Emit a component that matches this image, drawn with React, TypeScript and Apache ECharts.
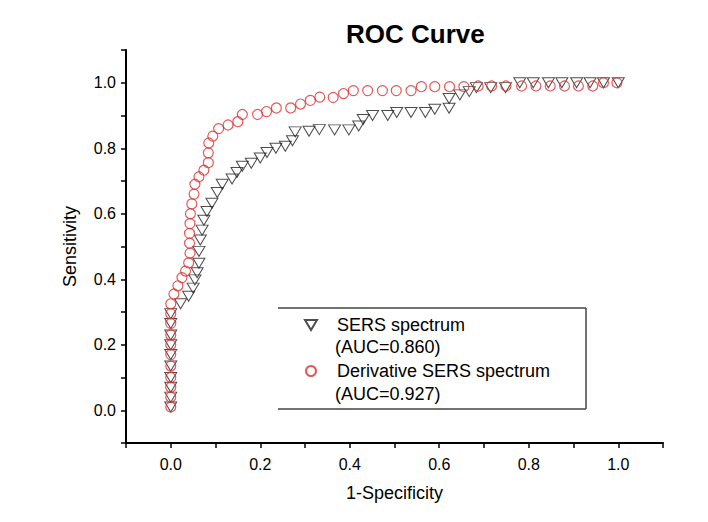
import React, { useEffect, useRef } from 'react';
import * as echarts from 'echarts';

const seriesNames = ['SERS spectrum', 'Derivative SERS spectrum'];
const aucLabels = ['(AUC=0.860)', '(AUC=0.927)'];
const tickLabels = ['0.0', '0.2', '0.4', '0.6', '0.8', '1.0'];

const sersX = [
  0, 0, 0, 0, 0, 0, 0, 0, 0, 0,
  0.022, 0.04, 0.05, 0.054, 0.059, 0.063, 0.063, 0.066, 0.07, 0.074,
  0.081, 0.092, 0.104, 0.115, 0.137, 0.148, 0.16, 0.18, 0.2, 0.215,
  0.235, 0.256, 0.272, 0.278, 0.309, 0.332, 0.366, 0.398, 0.42, 0.43,
  0.451, 0.485, 0.505, 0.537, 0.569, 0.59, 0.622, 0.622, 0.646, 0.667,
  0.683, 0.715, 0.748, 0.78, 0.81, 0.844, 0.874, 0.907, 0.937, 0.967, 1.0,
];
const sersY = [
  0.01, 0.04, 0.07, 0.1, 0.135, 0.17, 0.2, 0.23, 0.265, 0.295,
  0.325, 0.348, 0.373, 0.398, 0.42, 0.449, 0.485, 0.52, 0.55, 0.58,
  0.607, 0.632, 0.665, 0.69, 0.706, 0.726, 0.745, 0.754, 0.77, 0.787,
  0.8, 0.806, 0.823, 0.85, 0.852, 0.857, 0.856, 0.856, 0.868, 0.888,
  0.9, 0.9, 0.909, 0.909, 0.909, 0.919, 0.922, 0.952, 0.963, 0.973,
  0.985, 0.985, 0.985, 1.0, 1.0, 1.0, 1.0, 1.0, 1.0, 1.0, 1.0,
];

const derivX = [
  0, 0, 0, 0, 0, 0, 0, 0, 0, 0, 0,
  0.007, 0.016, 0.025, 0.033, 0.04, 0.043, 0.042, 0.042, 0.043, 0.044,
  0.047, 0.052, 0.054, 0.063, 0.074, 0.084, 0.084, 0.085, 0.094, 0.107,
  0.128, 0.15, 0.16, 0.194, 0.214, 0.236, 0.268, 0.29, 0.312, 0.333,
  0.363, 0.386, 0.408, 0.44, 0.473, 0.504, 0.537, 0.56, 0.59, 0.623,
  0.655, 0.687, 0.717, 0.749, 0.784, 0.816, 0.848, 0.88, 0.911, 0.943,
  0.967, 0.997,
];
const derivY = [
  0.01, 0.04, 0.07, 0.1, 0.135, 0.17, 0.2, 0.23, 0.265, 0.295, 0.325,
  0.355, 0.38, 0.405, 0.425, 0.45, 0.48, 0.51, 0.54, 0.57, 0.6,
  0.63, 0.66, 0.69, 0.713, 0.733, 0.756, 0.786, 0.816, 0.837, 0.86,
  0.871, 0.881, 0.903, 0.903, 0.912, 0.923, 0.923, 0.935, 0.946, 0.956,
  0.955, 0.967, 0.976, 0.976, 0.976, 0.976, 0.976, 0.988, 0.988, 0.988,
  0.988, 0.99, 0.99, 0.99, 0.99, 0.99, 0.99, 0.99, 0.99, 0.99,
  1.0, 1.0,
];

const FONT = '"Liberation Sans", Arial, sans-serif';

export default function App() {
  const ref = useRef<HTMLDivElement>(null);
  useEffect(() => {
    const chart = echarts.init(ref.current!, null, { renderer: 'svg' });
    const fmt = (v: number) => {
      const r = Math.round(v * 10);
      if (r % 2 !== 0) return '';
      const s = (r / 10).toFixed(1);
      return tickLabels.includes(s) ? s : '';
    };
    const axisCommon = {
      type: 'value' as const,
      min: -0.1,
      max: 1.1,
      interval: 0.1,
      axisLine: { show: true, onZero: false, lineStyle: { color: '#000', width: 2 } },
      axisTick: { show: true, inside: false, length: 5, lineStyle: { color: '#000', width: 1.5 } },
      axisLabel: { formatter: fmt, fontSize: 16, color: '#000', fontFamily: FONT },
      splitLine: { show: false },
      nameLocation: 'middle' as const,
      nameTextStyle: { fontSize: 18, color: '#000', fontFamily: FONT },
    };
    chart.setOption({
      animation: false,
      backgroundColor: '#fff',
      title: {
        text: 'ROC Curve',
        left: 341,
        top: 16,
        textStyle: { fontSize: 26, fontWeight: 'bold', color: '#000', fontFamily: FONT },
      },
      grid: { left: 126, right: 45, top: 50, bottom: 79, containLabel: false },
      xAxis: {
        ...axisCommon,
        name: '1-Specificity',
        nameGap: 41,
        axisLabel: { ...axisCommon.axisLabel, margin: 13 },
      },
      yAxis: {
        ...axisCommon,
        name: 'Sensitivity',
        nameGap: 47,
        axisLabel: { ...axisCommon.axisLabel, margin: 10 },
      },
      legend: {
        data: [
          { name: seriesNames[0], icon: 'path://M0,0L12,0L6,10Z' },
          { name: seriesNames[1] },
        ],
        orient: 'vertical',
        left: 304,
        top: 316,
        padding: 0,
        itemWidth: 12,
        itemHeight: 10,
        itemGap: 28,
        formatter: (name: string) => '   ' + name,
        textStyle: { fontSize: 18, color: '#000', fontFamily: FONT },
        selectedMode: false,
      },
      graphic: [
        { type: 'text', left: 335, top: 338, style: { text: aucLabels[0], fill: '#000', font: `18px ${FONT}` } },
        { type: 'text', left: 335, top: 385, style: { text: aucLabels[1], fill: '#000', font: `18px ${FONT}` } },
        { type: 'line', shape: { x1: 278, y1: 308, x2: 586, y2: 308 }, style: { stroke: '#444', lineWidth: 1.5 } },
        { type: 'line', shape: { x1: 586, y1: 308, x2: 586, y2: 409 }, style: { stroke: '#444', lineWidth: 1.5 } },
        { type: 'line', shape: { x1: 278, y1: 409, x2: 586, y2: 409 }, style: { stroke: '#444', lineWidth: 1.5 } },
      ],
      series: [
        {
          name: seriesNames[0],
          type: 'scatter',
          data: sersX.map((x, i) => [x, sersY[i]]),
          symbol: 'triangle',
          symbolRotate: 180,
          symbolSize: [12, 10],
          itemStyle: { color: 'rgba(255,255,255,0)', borderColor: '#222', borderWidth: 1 },
          emphasis: { disabled: true },
          z: 2,
        },
        {
          name: seriesNames[1],
          type: 'scatter',
          data: derivX.map((x, i) => [x, derivY[i]]),
          symbol: 'circle',
          symbolSize: 10,
          itemStyle: { color: 'rgba(255,255,255,0)', borderColor: '#e03030', borderWidth: 1.2 },
          emphasis: { disabled: true },
          z: 3,
        },
      ],
    });
    return () => chart.dispose();
  }, []);
  return (
    <div
      ref={ref}
      style={{ position: 'fixed', left: 0, top: 0, width: 708, height: 522, background: '#fff' }}
    />
  );
}
